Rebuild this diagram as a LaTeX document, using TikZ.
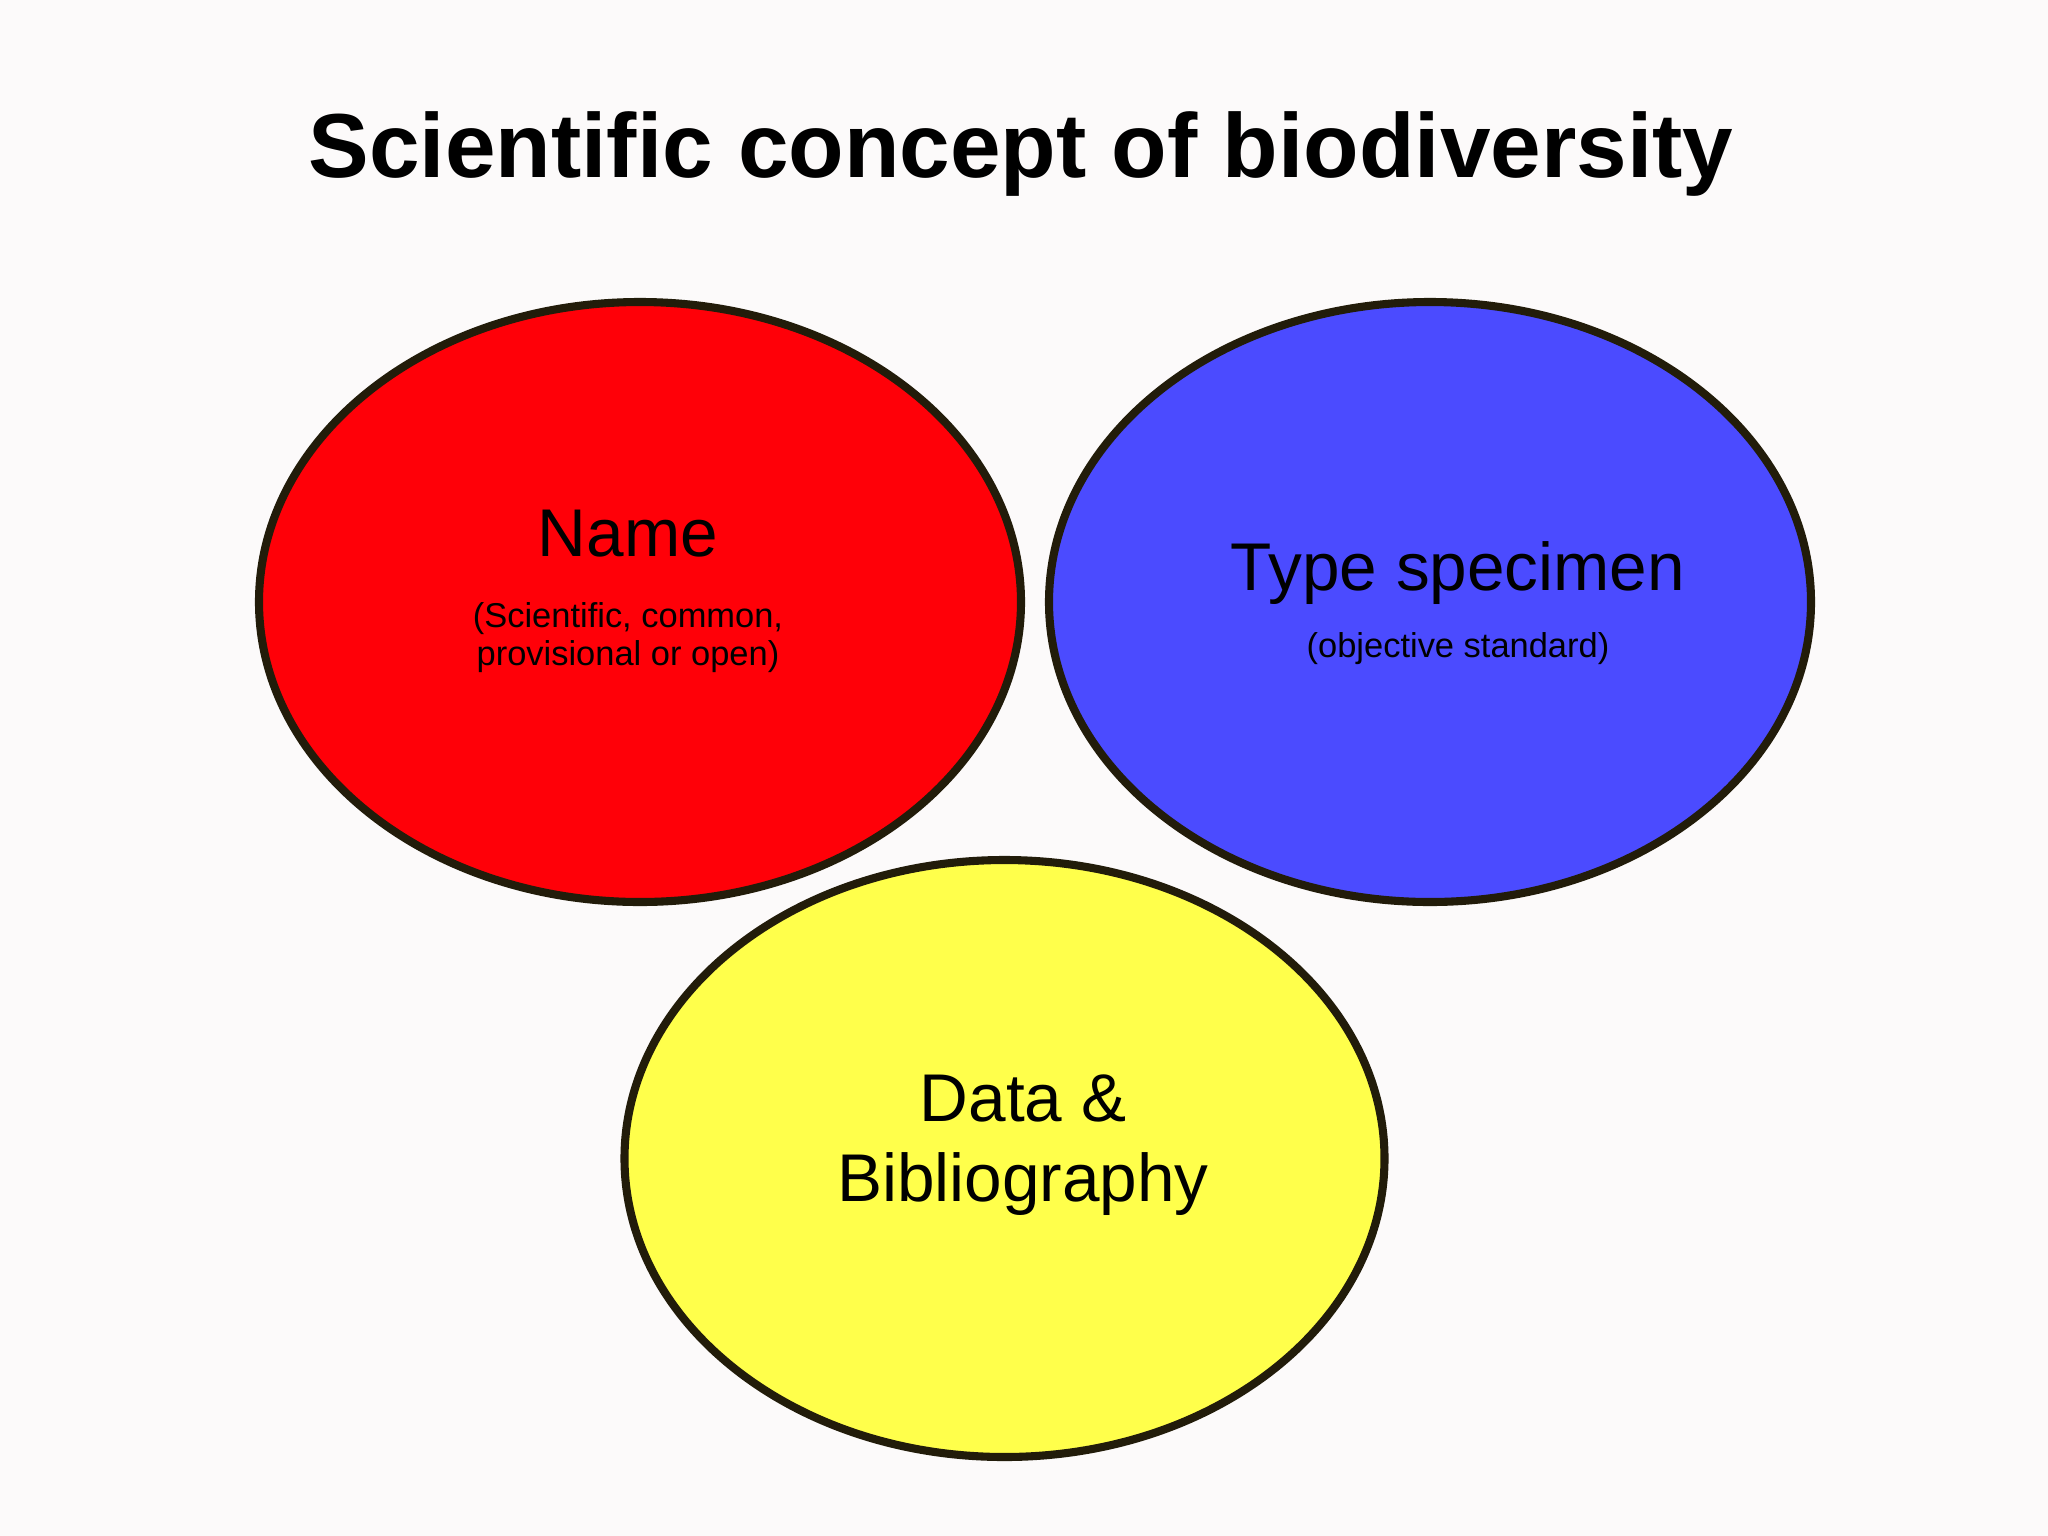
\documentclass[tikz,border=0pt]{standalone}
\usepackage{fontspec}
\setmainfont[Ligatures=CommonOff]{Liberation Sans}
\definecolor{pagebg}{RGB}{252,250,250}
\definecolor{rim}{RGB}{34,28,10}
\definecolor{namered}{RGB}{255,0,8}
\definecolor{typeblue}{RGB}{75,75,255}
\definecolor{datayellow}{RGB}{255,255,75}
\tikzset{
  blob/.style={draw=rim, line width=2.3pt},
  big/.style={anchor=base, inner sep=0pt, font=\fontsize{19.2}{23}\selectfont},
  small/.style={anchor=base, inner sep=0pt, font=\fontsize{9.8}{11}\selectfont}
}
\begin{document}
\begin{tikzpicture}[x=0.01cm,y=-0.01cm]
\fill[pagebg] (0,0) rectangle (2048,1536);
\node[anchor=base, inner sep=0pt, font=\fontsize{25.85}{31}\selectfont\bfseries] (title) at (1021,177) {Scientific concept of biodiversity};
% the three circles
\draw[blob, fill=namered] (640,602) ellipse (381 and 300);
\draw[blob, fill=typeblue] (1430,602) ellipse (381 and 300);
\draw[blob, fill=datayellow] (1004.5,1158.5) ellipse (380 and 298.5);
% labels
\node[big] (name) at (628,556) {Name};
\node[small] (name1) at (628,627) {(Scientific, common,};
\node[small] (name2) at (628,665) {provisional or open)};
\node[big] (type) at (1458,590) {Type specimen};
\node[small] (type1) at (1458,657) {(objective standard)};
\node[big] (data) at (1023,1121) {Data \&};
\node[big] (biblio) at (1023,1201) {Bibliography};
\end{tikzpicture}
\end{document}
